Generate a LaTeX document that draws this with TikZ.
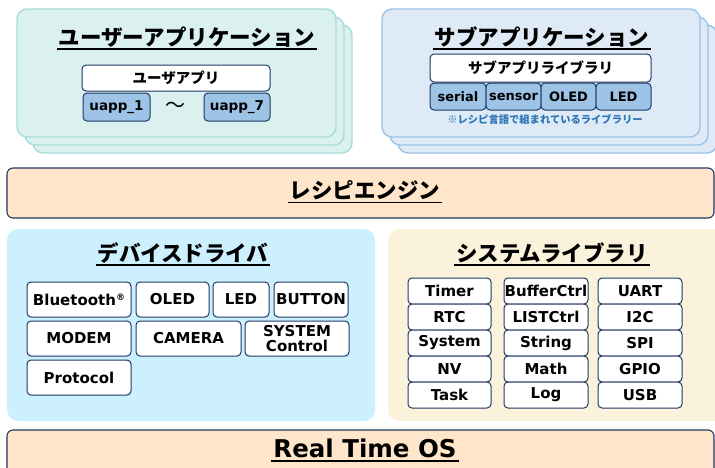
\documentclass[tikz,border=0pt]{standalone}
\usepackage{fontspec}
\setmainfont{Noto Sans CJK JP}
\newfontfamily\lat{DejaVu Sans}
\newcommand\ulx[1]{\setbox0\hbox{#1}\leavevmode\rlap{\hskip-2pt\raisebox{-4.5pt}{\rule{\dimexpr\wd0+4pt\relax}{1.6pt}}}\box0}
\definecolor{navy}{HTML}{1F3864}
\definecolor{tealfill}{HTML}{DAF1EF}
\definecolor{tealline}{HTML}{A6DCD8}
\definecolor{subfill}{HTML}{DEEBF7}
\definecolor{subline}{HTML}{9DC3E6}
\definecolor{bluebox}{HTML}{9DC3E6}
\definecolor{peach}{HTML}{FFE6CA}
\definecolor{cyanfill}{HTML}{CCF0FD}
\definecolor{creamfill}{HTML}{FBF2DC}
\definecolor{notecol}{HTML}{2E75B6}
\begin{document}
\begin{tikzpicture}[x=1pt,y=-1pt,
  ucard/.style={draw=tealline,fill=tealfill,line width=1.4pt,rounded corners=10pt},
  scard/.style={draw=subline,fill=subfill,line width=1.4pt,rounded corners=10pt},
  layer/.style={draw=navy,fill=peach,line width=1.1pt,rounded corners=6pt},
  panel/.style={rounded corners=11pt},
  title/.style={font=\fontsize{21.5}{24}\selectfont\bfseries,inner sep=0pt},
  wbox/.style={draw=navy,fill=white,line width=1pt,rounded corners=4pt,inner sep=0pt,
    font=\lat\bfseries\fontsize{15}{15}\selectfont,align=center},
  bbox/.style={draw=navy,fill=bluebox,line width=1pt,rounded corners=4pt,inner sep=0pt,
    font=\lat\bfseries\fontsize{13.5}{15}\selectfont},
  sbox/.style={bbox,font=\lat\bfseries\fontsize{13}{14}\selectfont,minimum width=55pt,minimum height=27pt},
  lbox/.style={wbox,minimum width=83pt,minimum height=26pt},
  dbox/.style={wbox,minimum height=35pt}
]
\useasboundingbox (0,0) rectangle (715,467);

% ---- user application stack
\draw[ucard] (33,25) rectangle (352,153);
\draw[ucard] (25,17) rectangle (344,145);
\draw[ucard] (17,9) rectangle (336,137);
\node[title] (ut) at (187,38) {\ulx{ユーザーアプリケーション}};
\node[wbox,font=\bfseries\fontsize{14.5}{16}\selectfont,minimum width=188pt,minimum height=26pt] (uapp) at (176,78) {ユーザアプリ};
\node[bbox,minimum width=67pt,minimum height=28pt] (u1) at (116.5,107) {uapp\_1};
\node[bbox,minimum width=66pt,minimum height=28pt] (u7) at (237,107) {uapp\_7};
\node[inner sep=0pt,font=\fontsize{20}{20}\selectfont] (tilde) at (175,107) {〜};

% ---- sub application stack
\draw[scard] (398,25) rectangle (717,153);
\draw[scard] (390,17) rectangle (708,145);
\draw[scard] (382,9) rectangle (700,137);
\node[title] (st) at (542,38) {\ulx{サブアプリケーション}};
\node[wbox,font=\bfseries\fontsize{14.5}{16}\selectfont,minimum width=221pt,minimum height=28pt] (slib) at (540.5,68) {サブアプリライブラリ};
\node[sbox,minimum width=56pt] (s1) at (458,96.5) {serial};
\node[sbox] (s2) at (513.5,96.5) {sensor};
\node[sbox] (s3) at (568.5,96.5) {OLED};
\node[sbox] (s4) at (623.5,96.5) {LED};
\node[inner sep=0pt,text=notecol,font=\bfseries\fontsize{10.3}{12}\selectfont] (note) at (545,119) {※レシピ言語で組まれているライブラリー};

% ---- recipe engine
\draw[layer] (7,168) rectangle (714,218);
\node[title] (re) at (365,192) {\ulx{レシピエンジン}};

% ---- device driver panel
\fill[cyanfill,panel] (7,229) rectangle (375,421);
\node[title] (dt) at (183,254) {\ulx{デバイスドライバ}};
\node[dbox,minimum width=104pt] (bt) at (79,299.5) {Bluetooth\raisebox{4.5pt}{\fontsize{9}{9}\selectfont ®}};
\node[dbox,minimum width=73pt] (oled) at (172.5,299.5) {OLED};
\node[dbox,minimum width=56pt] (led) at (241,299.5) {LED};
\node[dbox,minimum width=74pt] (btn) at (311,299.5) {BUTTON};
\node[dbox,minimum width=104pt] (modem) at (79,338.5) {MODEM};
\node[dbox,minimum width=105pt] (cam) at (188.5,338.5) {CAMERA};
\node[dbox,minimum width=104pt] (sysc) at (297,338.5) {SYSTEM\\Control};
\node[dbox,minimum width=104pt] (proto) at (79,377.5) {Protocol};

% ---- system library panel
\fill[creamfill,panel] (388,229) rectangle (726,421);
\node[title] (lt) at (552,254) {\ulx{システムライブラリ}};
\node[lbox] (timer) at (449.5,291) {Timer};
\node[lbox] (rtc) at (449.5,317) {RTC};
\node[lbox] (system) at (449.5,343) {System};
\node[lbox] (nv) at (449.5,369) {NV};
\node[lbox] (task) at (449.5,395) {Task};
\node[lbox,minimum width=84pt] (buf) at (546,291) {BufferCtrl};
\node[lbox,minimum width=84pt] (list) at (546,317) {LISTCtrl};
\node[lbox,minimum width=84pt] (str) at (546,343) {String};
\node[lbox,minimum width=84pt] (math) at (546,369) {Math};
\node[lbox,minimum width=84pt] (log) at (546,395) {Log};
\node[lbox,minimum width=84pt] (uart) at (640,291) {UART};
\node[lbox,minimum width=84pt] (i2c) at (640,317) {I2C};
\node[lbox,minimum width=84pt] (spi) at (640,343) {SPI};
\node[lbox,minimum width=84pt] (gpio) at (640,369) {GPIO};
\node[lbox,minimum width=84pt] (usb) at (640,395) {USB};

% ---- real time OS
\draw[layer] (7,430) rectangle (714,480);
\node[inner sep=0pt,font=\lat\bfseries\fontsize{24.5}{26}\selectfont] (os) at (365,450) {\ulx{Real Time OS}};
\end{tikzpicture}
\end{document}
